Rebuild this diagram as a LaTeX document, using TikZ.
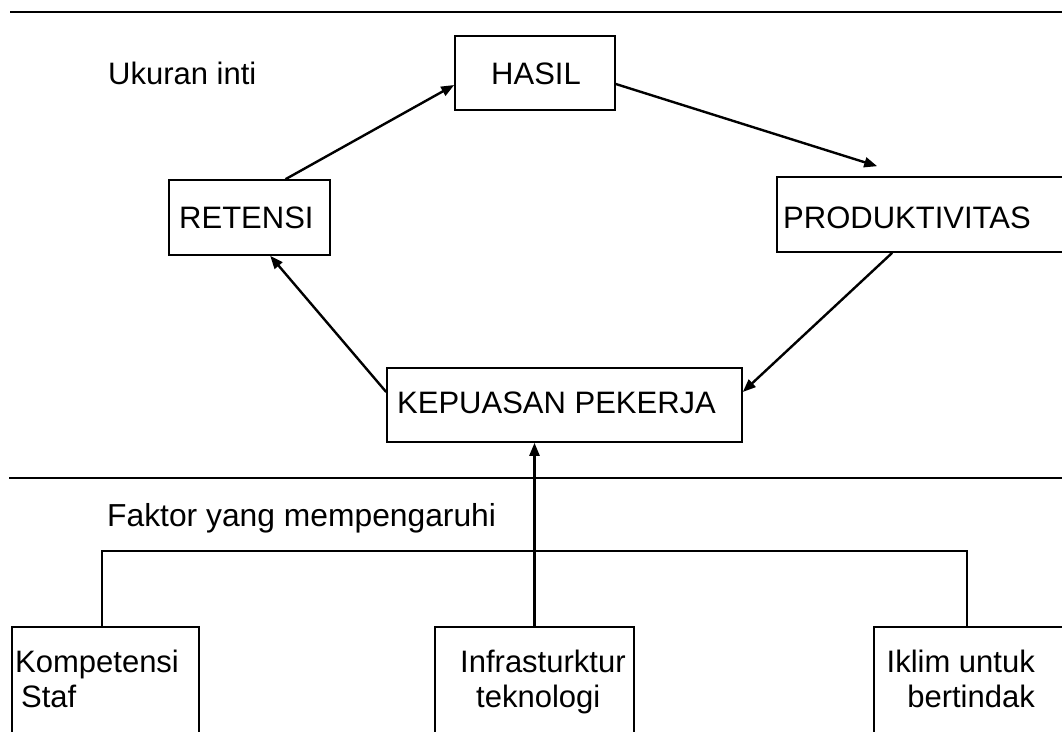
\documentclass[tikz,border=0pt]{standalone}
\usepackage{fontspec}
\setmainfont{Liberation Sans}
\usetikzlibrary{arrows.meta,fit}
\begin{document}
\begin{tikzpicture}[x=1pt,y=-1pt,
  box/.style={draw,line width=1.6pt,inner sep=0pt},
  txt/.style={font=\fontsize{31}{35}\selectfont,inner sep=0pt},
  rule/.style={line width=2pt},
  link/.style={line width=1.8pt},
  conn/.style={line width=2.4pt,-{Triangle[length=13pt,width=10pt]}}]
  \path[use as bounding box] (0,0) rectangle (1062,731);
  \clip (0,0) rectangle (1062,731);
  \fill[white] (0,0) rectangle (1062,731);

  % section dividers
  \coordinate (topL) at (10,12);
  \coordinate (topR) at (1070,12);
  \coordinate (midL) at (9,478);
  \coordinate (midR) at (1070,478);
  \draw[rule] (topL) -- (topR);
  \draw[rule] (midL) -- (midR);

  % core measures
  \node[box,fit={(455,36) (615,110)}] (hasil) {};
  \node[box,fit={(169,180) (330,255)}] (retensi) {};
  \node[box,fit={(777,177) (1090,252)}] (produk) {};
  \node[box,fit={(387,368) (742,442)}] (kepuasan) {};

  \node[txt,anchor=base west] (ukuran) at (108,84) {Ukuran inti};
  \node[txt,anchor=base] (thasil) at (536,84) {HASIL};
  \node[txt,anchor=base west] (tretensi) at (179,228) {RETENSI};
  \node[txt,anchor=base west] (tproduk) at (783,228) {PRODUKTIVITAS};
  \node[txt,anchor=base west] (tkepuasan) at (397,413) {KEPUASAN PEKERJA};

  % influencing factors
  \node[txt,anchor=base west,font=\fontsize{31.8}{35}\selectfont] (faktor) at (107,526) {Faktor yang mempengaruhi};
  \node[box,fit={(12,627) (199,780)}] (komp) {};
  \node[box,fit={(435,627) (634,780)}] (infra) {};
  \node[box,fit={(874,627) (1090,780)}] (iklim) {};

  \node[txt,anchor=base west] (kompA) at (15,672) {Kompetensi};
  \node[txt,anchor=base west] (kompB) at (21,707) {Staf};
  \node[txt,anchor=base west] (infraA) at (460,672) {Infrasturktur};
  \node[txt,anchor=base west] (infraB) at (476,707) {teknologi};
  \node[txt,anchor=base east] (iklimA) at (1035,672) {Iklim untuk};
  \node[txt,anchor=base east] (iklimB) at (1035,707) {bertindak};

  % cycle of core measures
  \draw[conn] ([xshift=36pt]retensi.north) -- ([yshift=-12pt]hasil.west);
  \draw[conn] ([yshift=-11pt]hasil.east) -- ([xshift=101pt,yshift=10pt]produk.north west);
  \draw[conn] ([xshift=116pt]produk.south west) -- ([yshift=13pt]kepuasan.east);
  \draw[conn] ([yshift=13pt]kepuasan.west) -- ([xshift=102pt]retensi.south west);

  % factors feeding satisfaction
  \coordinate (barL) at (102,551);
  \coordinate (barR) at (967,551);
  \draw[link] (komp.north -| barL) -- (barL) -- (barR) -- (iklim.north -| barR);
  \draw[conn] (infra.north) -- (infra.north |- kepuasan.south);
\end{tikzpicture}
\end{document}
